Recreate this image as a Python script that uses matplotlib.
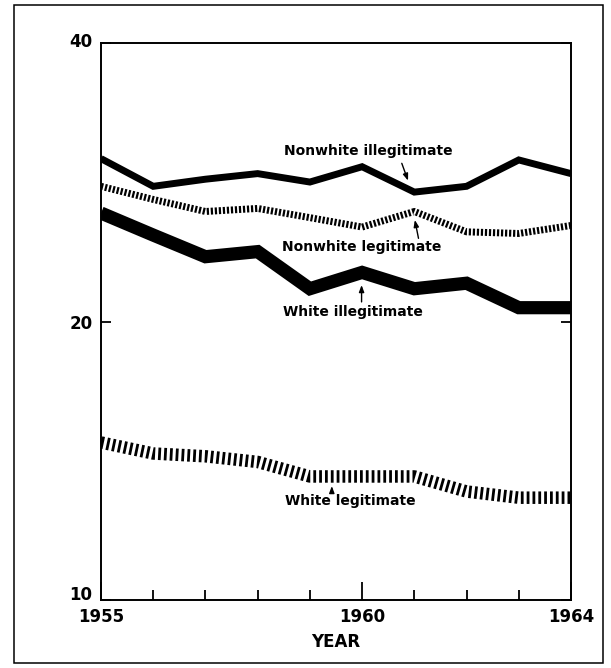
import matplotlib
matplotlib.use("Agg")
import matplotlib.pyplot as plt
import matplotlib.transforms as mtransforms
from matplotlib.patches import Rectangle
from matplotlib.ticker import FixedLocator, NullLocator, FixedFormatter

plt.rcParams['lines.scale_dashes'] = False
plt.rcParams['font.family'] = ['DejaVu Sans']

years = [1955, 1956, 1957, 1958, 1959, 1960, 1961, 1962, 1963, 1964]
nonwhite_illegitimate = [30.0, 28.0, 28.5, 28.9, 28.3, 29.4, 27.6, 28.0, 29.9, 28.9]
nonwhite_legitimate = [28.0, 27.1, 26.3, 26.5, 25.9, 25.3, 26.3, 25.0, 24.9, 25.4]
white_illegitimate = [26.2, 24.8, 23.5, 23.8, 21.7, 22.6, 21.7, 22.0, 20.7, 20.7]
white_legitimate = [14.8, 14.4, 14.3, 14.1, 13.6, 13.6, 13.6, 13.1, 12.9, 12.9]

y_ticks = [10, 20, 40]
y_tick_labels = ["10", "20", "40"]
x_major = [1955, 1960, 1964]
x_major_labels = ["1955", "1960", "1964"]
x_label = "YEAR"

fig = plt.figure(figsize=(6.11, 6.68), dpi=100)
ax = fig.add_axes([0.1653, 0.1018, 0.7692, 0.8338])

ax.plot(years, nonwhite_illegitimate, color='black', lw=5.0,
        solid_joinstyle='miter', solid_capstyle='butt')
ax.plot(years, nonwhite_legitimate, color='black', lw=5.0,
        linestyle=(0, (1.6, 1.3)), dash_capstyle='butt')
ax.plot(years, white_illegitimate, color='black', lw=9.5,
        solid_joinstyle='miter', solid_capstyle='butt')
ax.plot(years, white_legitimate, color='black', lw=9.0,
        linestyle=(0, (2.0, 2.2)), dash_capstyle='butt')

ax.set_yscale('log')
ax.set_ylim(10, 40)
ax.set_xlim(1955, 1964)
ax.yaxis.set_major_locator(FixedLocator(y_ticks))
ax.yaxis.set_major_formatter(FixedFormatter(y_tick_labels))
ax.yaxis.set_minor_locator(NullLocator())
ax.xaxis.set_major_locator(FixedLocator(x_major))
ax.xaxis.set_major_formatter(FixedFormatter(x_major_labels))
ax.xaxis.set_minor_locator(FixedLocator([y for y in years if y not in x_major]))

ax.tick_params(axis='y', which='major', direction='in', length=7, width=1.3,
               right=True, pad=6, labelsize=12)
ax.tick_params(axis='x', which='major', direction='in', length=13, width=1.3,
               pad=6, labelsize=12)
ax.tick_params(axis='x', which='minor', direction='in', length=7, width=1.3)
for lab in ax.get_xticklabels() + ax.get_yticklabels():
    lab.set_fontweight('bold')
for s in ax.spines.values():
    s.set_linewidth(1.4)

# lift the bottom "10" and top "40" labels slightly, as in the original
fig.canvas.draw()
ylabs = ax.get_yticklabels()
ylabs[0].set_transform(ylabs[0].get_transform() +
                       mtransforms.ScaledTranslation(0, 7 / 100, fig.dpi_scale_trans))
ylabs[2].set_transform(ylabs[2].get_transform() +
                       mtransforms.ScaledTranslation(0, 3 / 100, fig.dpi_scale_trans))

ax.set_xlabel(x_label, fontsize=12, fontweight='bold', labelpad=5)

arrow = dict(arrowstyle='-|>,head_length=0.4,head_width=0.15', color='black', lw=1.0,
             shrinkA=0, shrinkB=0)
ann_font = dict(fontsize=10, fontweight='bold', ha='center', va='center')

ax.text(1960.11, 30.6, "Nonwhite illegitimate", **ann_font)
ax.annotate("", xy=(1960.88, 28.4), xytext=(1960.76, 29.65), arrowprops=arrow)

ax.text(1959.99, 24.1, "Nonwhite legitimate", **ann_font)
ax.annotate("", xy=(1961.01, 25.75), xytext=(1961.08, 24.6), arrowprops=arrow)

ax.text(1959.83, 20.5, "White illegitimate", **ann_font)
ax.annotate("", xy=(1959.99, 21.9), xytext=(1959.99, 21.0), arrowprops=arrow)

ax.text(1959.77, 12.8, "White legitimate", **ann_font)
ax.annotate("", xy=(1959.42, 13.28), xytext=(1959.42, 13.05), arrowprops=arrow)

fig.patches.append(Rectangle((0.0229, 0.0075), 0.964, 0.985, transform=fig.transFigure,
                             fill=False, edgecolor='black', lw=1.1))

fig.savefig("out.png", dpi=100)
